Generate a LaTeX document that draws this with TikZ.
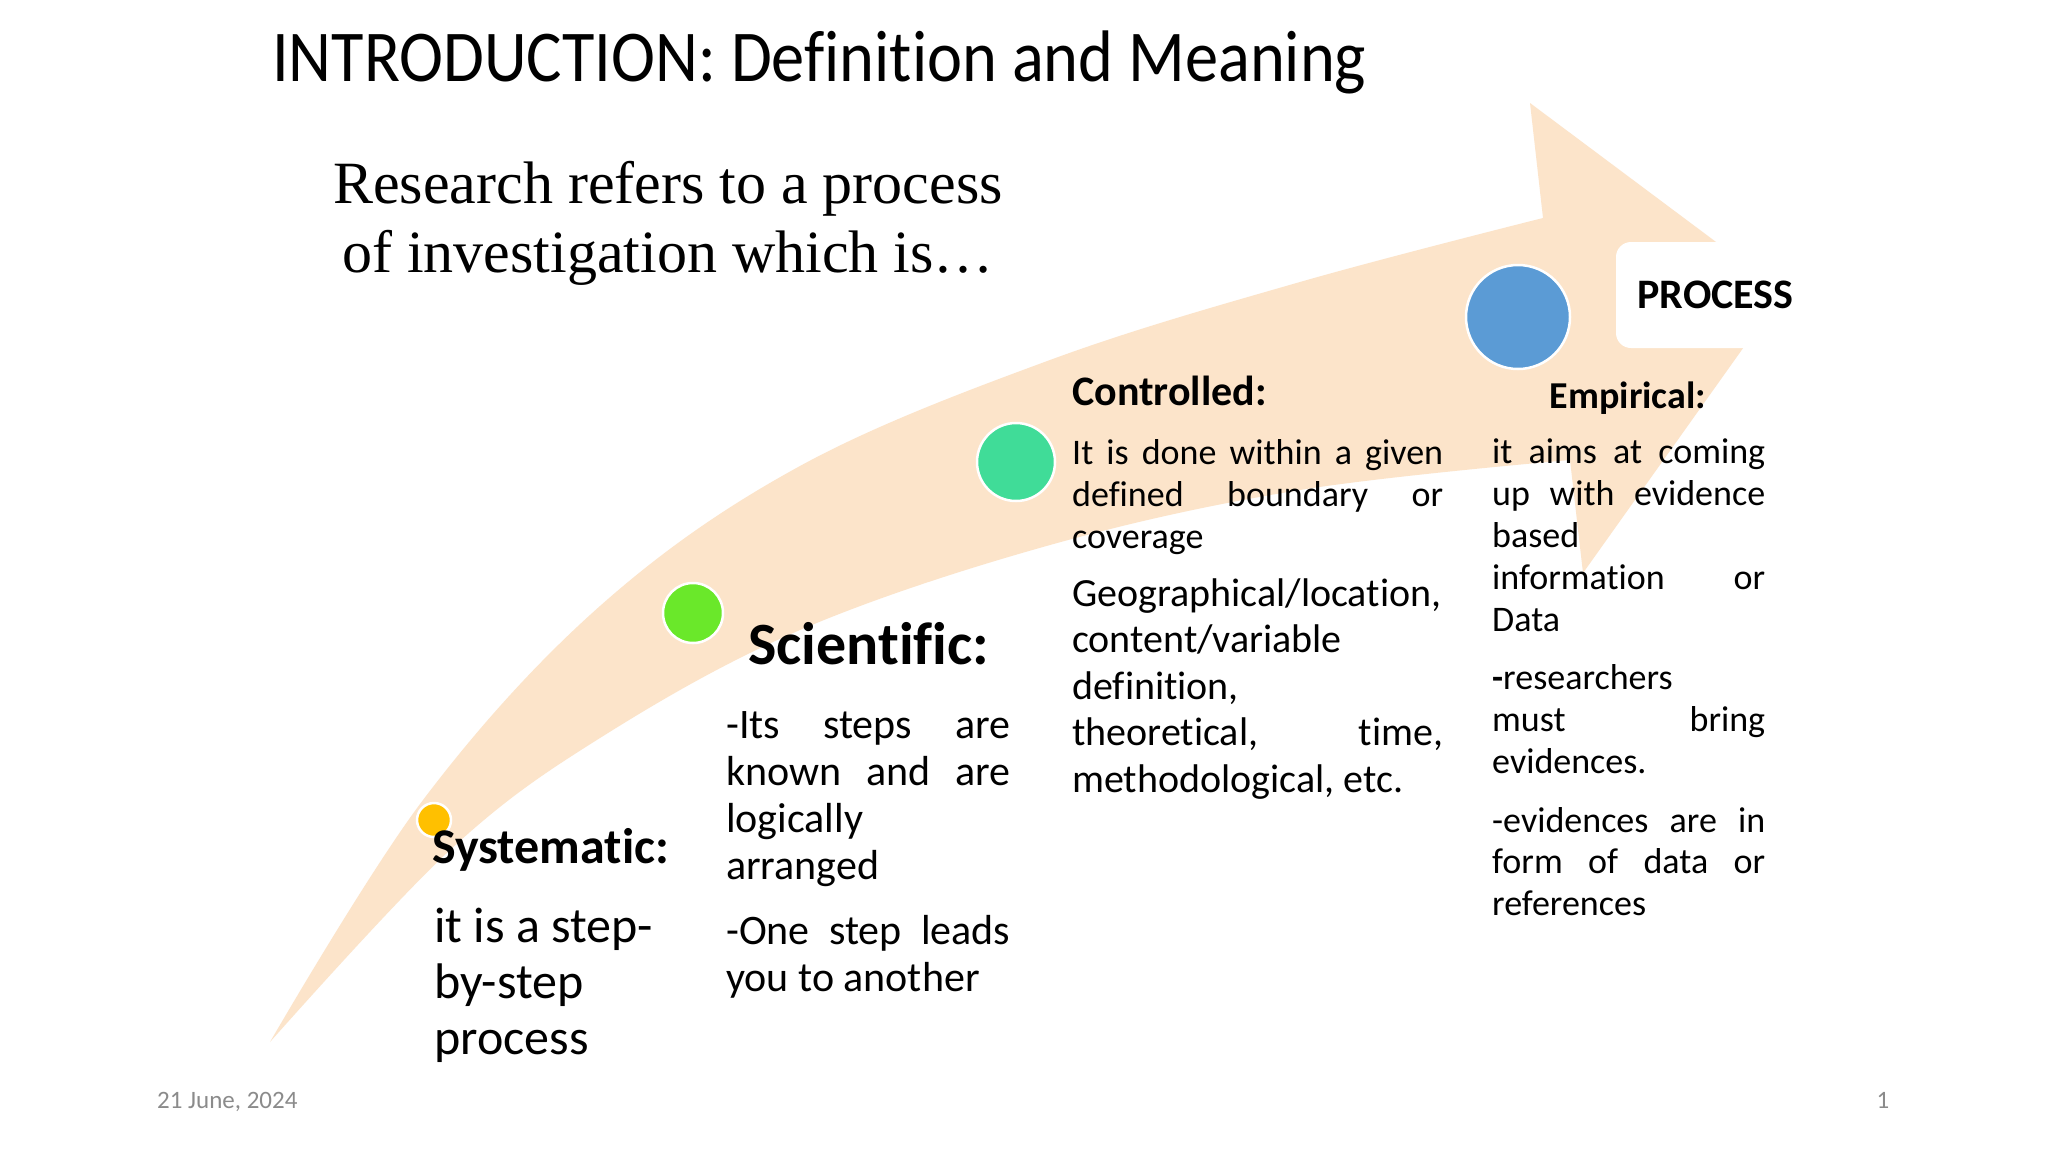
\documentclass[tikz,border=0pt]{standalone}
\usepackage{fontspec}
\setmainfont{Carlito}[Ligatures=NoCommon]
\newfontfamily\seriffont{Liberation Serif}
\definecolor{bandcol}{HTML}{FCE4CA}
\definecolor{dotyellow}{HTML}{FFC000}
\definecolor{dotgreen}{HTML}{6AE82A}
\definecolor{dotteal}{HTML}{40DC98}
\definecolor{dotblue}{HTML}{5B9BD5}
\definecolor{footgray}{HTML}{8B8B8B}
\tikzset{
  dot/.style={circle, draw=white, line width=2.5pt, inner sep=0pt},
  head/.style={anchor=base west, inner sep=0pt, font=\bfseries},
  para/.style={anchor=base west, inner sep=0pt, align=justify},
}
\newcommand{\fsz}[2]{\fontsize{#1}{#2}\selectfont}
\begin{document}
\begin{tikzpicture}[x=1pt, y=-1pt]
\useasboundingbox[fill=white] (0,0) rectangle (2048,1152);

% curved arrow band
\fill[bandcol] (270,1042)
  -- plot[smooth, tension=0.6] coordinates {(270,1042) (423,800) (600,606) (800,466) (1050,360) (1300,282) (1543,218)}
  -- (1530,103) -- (1783,292) -- (1583,573) -- (1570,460)
  -- plot[smooth, tension=0.6] coordinates {(1570,460) (1300,490) (1050,545) (800,630) (600,738) (450,850) (270,1042)}
  -- cycle;

% dots
\node[dot, fill=dotyellow, minimum size=34pt] (d1) at (434,820) {};
\node[dot, fill=dotgreen, minimum size=60pt] (d2) at (693,613) {};
\node[dot, fill=dotteal, minimum size=78pt] (d3) at (1016,462) {};
\node[dot, fill=dotblue, minimum size=104pt] (d4) at (1518,317) {};

% PROCESS box
\node[fill=white, rounded corners=15pt, minimum width=199pt, minimum height=106pt, inner sep=0pt,
      font=\bfseries\fsz{42}{50}] (proc) at (1715.5,295) {PROCESS};

% title
\node[anchor=base west, inner sep=0pt, xscale=0.909, font=\fsz{73}{80}] (title) at (272,81)
  {INTRODUCTION: Definition and Meaning};

% intro sentence
\node[anchor=base, inner sep=0pt, font=\seriffont\fsz{60}{69}] (intro1) at (668,203) {Research refers to a process};
\node[anchor=base, inner sep=0pt, font=\seriffont\fsz{60}{69}] (intro2) at (668,272) {of investigation which is\ldots};

% Systematic
\node[head, font=\bfseries\fsz{50}{56}] (sysh) at (432,863) {Systematic:};
\node[anchor=base west, inner sep=0pt, text width=250pt, align=flush left, font=\fsz{50}{56}] (sysb) at (434,942)
  {it is a step-\\by-step\\process};

% Scientific
\node[head, font=\bfseries\fsz{60}{66}] (scih) at (748,664) {Scientific:};
\node[para, text width=284pt, font=\fsz{42}{47}] (scib1) at (726,738)
  {-Its steps are\linebreak known and are\linebreak logically\newline arranged};
\node[para, text width=284pt, font=\fsz{42}{47}] (scib2) at (726,944)
  {-One step leads\linebreak you to another};

% Controlled
\node[head, font=\bfseries\fsz{42}{48}] (conh) at (1072,405) {Controlled:};
\node[para, text width=371pt, font=\fsz{36}{42}] (conb1) at (1072,464)
  {It is done within a given\linebreak defined boundary or\linebreak coverage};
\node[para, text width=371pt, font=\fsz{40}{46.5}] (conb2) at (1072,606)
  {Geographical/location,\newline content/variable\newline definition,\newline theoretical, time,\linebreak methodological, etc.};

% Empirical
\node[anchor=base, inner sep=0pt, font=\bfseries\fsz{38}{44}] (emph) at (1628,408) {Empirical:};
\node[para, text width=273pt, font=\fsz{36}{42.2}] (empb1) at (1492,463)
  {it aims at coming\linebreak up with evidence\linebreak based\newline information or\linebreak Data};
\node[para, text width=273pt, font=\fsz{36}{42}] (empb2) at (1492,689)
  {\textbf{-}researchers\newline must bring\linebreak evidences.};
\node[para, text width=273pt, font=\fsz{36}{41.5}] (empb3) at (1492,832)
  {-evidences are in\linebreak form of data or\linebreak references};

% footer
\node[anchor=base west, inner sep=0pt, text=footgray, font=\fsz{25}{30}] (date) at (157,1108) {21 June, 2024};
\node[anchor=base, inner sep=0pt, text=footgray, font=\fsz{25}{30}] (pnum) at (1883,1108) {1};
\end{tikzpicture}
\end{document}
